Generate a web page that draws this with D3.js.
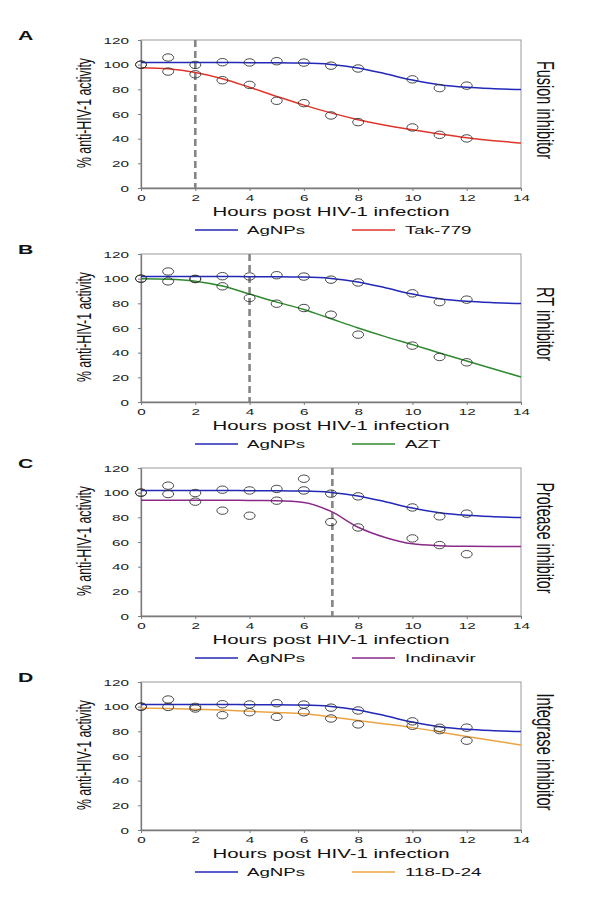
<!DOCTYPE html>
<html><head><meta charset="utf-8">
<script src="https://cdn.jsdelivr.net/npm/d3@7/dist/d3.min.js"></script>
<style>body{margin:0;background:#fff}svg{display:block}text{font-family:"Liberation Sans",Arial,sans-serif}</style>
</head><body><svg id="c" width="600" height="903"></svg>
<script>
// ---- data ----
const hours = [0,1,2,3,4,5,6,7,8,10,11,12];
const fitHours = [0,1,2,3,4,5,6,7,8,9,10,11,12,13,14];
const xTicks = [0,2,4,6,8,10,12,14];
const yTicks = [0,20,40,60,80,100,120];

const agnpsPts = [100,105.8,99.8,102,101.8,102.8,101.7,99.2,96.9,88.1,81,83];
const agnpsPtsC = [100,105.7,99.7,102.4,101.8,103,101.8,99.2,97,88,80.8,83];
const tak779Pts = [100,94.4,92.2,87.4,83.6,70.7,68.8,58.8,53.4,49.1,43.1,40.2];
const aztPts = [100,97.8,99.7,93.8,84.3,79.7,76.2,70.8,54.6,45.7,36.5,32.2];
const indinavirPts = [100,98.9,92.7,85.4,81.3,93.5,111.3,76.2,71.8,62.9,57.5,50.1];
const d24Pts = [100,99.8,98.5,93.1,95.5,91.7,95.5,90.4,85.6,84.5,82.9,72.4];

const agnpsFit = [101.7,101.7,101.7,101.7,101.6,101.5,101.3,100.2,97.3,92.6,87.5,83.7,81.6,80.5,79.8];
const tak779Fit = [97.6,96.6,93.6,88.6,81.7,74.3,67.2,60.9,55.4,50.9,47.2,43.8,40.8,38.4,36.4];
const aztFit = [100,99.6,98,94,87.5,81,75,67.5,60,53,46.5,39.8,33.3,26.8,20.3];
const indinavirFit = [93.8,93.8,93.8,93.8,93.7,93.5,92.1,84.8,72,63.7,58.5,57,56.5,56.4,56.3];
const d24Fit = [98.8,98.5,98,97.2,96.2,95.3,94.2,91.7,88.8,86,83,79.5,75.8,72.3,68.9];

const panelLetters = ["A","B","C","D"];
const drugNames = ["Tak-779","AZT","Indinavir","118-D-24"];
const panelTitles = ["Fusion inhibitor","RT inhibitor","Protease inhibitor","Integrase inhibitor"];
const cutoffs = [2,4,7.05,null];
const xTitle = "Hours post HIV-1 infection";
const yTitle = "% anti-HIV-1 activity";

// ---- styling / layout ----
const SX = 1.7;
const drugColors = ["#e0352a","#2e8a2e","#8a2a88","#eba443"];
const blue = "#2228b8";
const tops = [40,254,468,682];
const H = 148, L = 141, R = 521;
const titleLens = [98,74,111,117];
const drugPts = [tak779Pts, aztPts, indinavirPts, d24Pts];
const drugFits = [tak779Fit, aztFit, indinavirFit, d24Fit];
const agPts = [agnpsPts, agnpsPts, agnpsPtsC, agnpsPts];

const svg = d3.select("#c");
const x = d3.scaleLinear().domain([0,14]).range([L,R]);

function scaledText(g, tx, ty, txt, size, anchor, rot, len, extra) {
  const t = g.append("text")
    .attr("transform", `translate(${tx},${ty}) scale(${SX},1)` + (rot ? ` rotate(${rot})` : ""))
    .attr("text-anchor", anchor).attr("font-size", size).attr("fill", "#111").text(txt);
  if (rot) t.attr("dominant-baseline", "central");
  if (len) t.attr("textLength", len).attr("lengthAdjust", "spacingAndGlyphs");
  if (extra) extra(t);
  return t;
}

panelLetters.forEach((letter, i) => {
  const top = tops[i], bot = top + H;
  const y = d3.scaleLinear().domain([0,120]).range([bot, top]);
  const g = svg.append("g");

  g.append("rect").attr("x", L).attr("y", top).attr("width", R-L).attr("height", H)
    .attr("fill", "none").attr("stroke", "#9a9a9a").attr("stroke-width", 1);

  const ya = g.append("g").attr("transform", `translate(${L},0)`)
    .call(d3.axisLeft(y).tickValues(yTicks).tickSize(3).tickSizeOuter(0));
  ya.selectAll("text").attr("x", null).attr("dy", "0.34em")
    .attr("transform", `translate(-12,0) scale(${SX},1)`).attr("font-size", 9)
    .attr("font-family", "Liberation Sans, Arial, sans-serif").attr("fill", "#222");
  const xa = g.append("g").attr("transform", `translate(0,${bot})`)
    .call(d3.axisBottom(x).tickValues(xTicks).tickSize(3).tickSizeOuter(0));
  xa.selectAll("text").attr("y", null).attr("dy", null)
    .attr("transform", `translate(0,13) scale(${SX},1)`).attr("font-size", 9)
    .attr("font-family", "Liberation Sans, Arial, sans-serif").attr("fill", "#222");
  [ya, xa].forEach(a => {
    a.select(".domain").attr("stroke", "#7a7a7a").attr("stroke-width", 1.3);
    a.selectAll(".tick line").attr("stroke", "#7a7a7a");
  });

  if (cutoffs[i] !== null) {
    g.append("line").attr("x1", x(cutoffs[i])).attr("x2", x(cutoffs[i]))
      .attr("y1", y(120)).attr("y2", y(0))
      .attr("stroke", "#858585").attr("stroke-width", 2.6).attr("stroke-dasharray", "7,4");
  }

  const line = d3.line().x((d, k) => x(fitHours[k])).y(d => y(d)).curve(d3.curveMonotoneX);
  g.append("path").attr("d", line(agnpsFit)).attr("fill", "none").attr("stroke", blue).attr("stroke-width", 1.5);
  g.append("path").attr("d", line(drugFits[i])).attr("fill", "none").attr("stroke", drugColors[i]).attr("stroke-width", 1.5);

  [agPts[i], drugPts[i]].forEach(arr => {
    g.selectAll(null).data(arr).enter().append("ellipse")
      .attr("cx", (d, k) => x(hours[k])).attr("cy", d => y(d))
      .attr("rx", 5.5).attr("ry", 3.7)
      .attr("fill", "none").attr("stroke", "#333").attr("stroke-width", 0.9);
  });

  scaledText(g, 18, top, letter, 12.5, "start", 0, null, t => t.attr("font-weight", "bold"));
  scaledText(g, (L+R)/2, bot + 28, xTitle, 12, "middle", 0, 237 / SX);
  scaledText(g, 84, top + H/2 - 1, yTitle, 12.2, "middle", -90, 110);
  scaledText(g, 546, top + H/2 - 4, panelTitles[i], 14.5, "middle", 90, titleLens[i]);

  const ly = bot + 42;
  g.append("line").attr("x1", 195).attr("x2", 238).attr("y1", ly).attr("y2", ly)
    .attr("stroke", blue).attr("stroke-width", 1.5);
  scaledText(g, 247, ly + 4, "AgNPs", 11, "start", 0);
  g.append("line").attr("x1", 352).attr("x2", 395).attr("y1", ly).attr("y2", ly)
    .attr("stroke", drugColors[i]).attr("stroke-width", 1.5);
  scaledText(g, 405, ly + 4, drugNames[i], 11, "start", 0);
});
</script></body></html>
